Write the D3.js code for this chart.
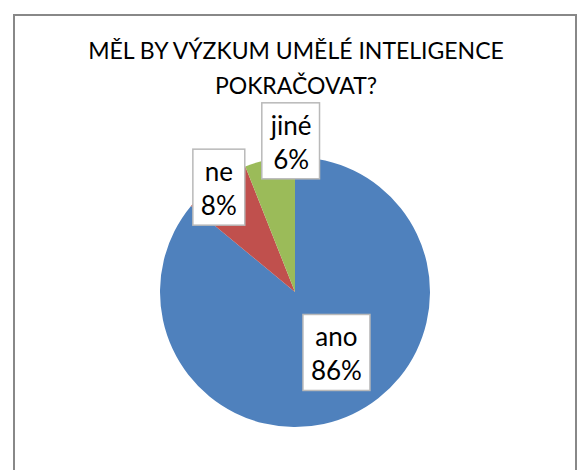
<!DOCTYPE html>
<html>
<head>
<meta charset="utf-8">
<script src="https://cdn.jsdelivr.net/npm/d3@7"></script>
<style>
  body { margin: 0; background: #fff; }
  svg { display: block; font-family: Lato, "Open Sans", sans-serif; }
</style>
</head>
<body>
<script>
'use strict';

// data
const categories = ['ano', 'ne', 'jiné'];
const values = [86, 8, 6];
const colors = ['#4F81BD', '#C0504D', '#9BBB59'];
const titleLines = ['MĚL BY VÝZKUM UMĚLÉ INTELIGENCE', 'POKRAČOVAT?'];

const width = 582, height = 470;
const cx = 295, cy = 292, radius = 135;

// label placement (radius factor, x nudge) per slice
const labelRadius = [0.495, 0.96, 1.14];
const labelNudge = [13, 0, 25];

const svg = d3.select('body').append('svg')
    .attr('width', width)
    .attr('height', height);

// chart area border
svg.append('rect')
    .attr('x', 14)
    .attr('y', 15)
    .attr('width', 562)
    .attr('height', 470)
    .attr('fill', '#fff')
    .attr('stroke', '#888')
    .attr('stroke-width', 2);

// title
svg.append('text')
    .attr('x', 296)
    .attr('y', 59)
    .attr('text-anchor', 'middle')
    .attr('font-size', 23)
    .attr('fill', '#000')
  .selectAll('tspan')
    .data(titleLines).enter()
  .append('tspan')
    .attr('x', 296)
    .attr('dy', (d, i) => i === 0 ? 0 : 35)
    .text(d => d);

const pie = d3.pie().sort(null).value(d => d.value);
const arcs = pie(categories.map((c, i) => ({name: c, value: values[i], color: colors[i]})));
const arc = d3.arc().innerRadius(0).outerRadius(radius);

const g = svg.append('g')
    .attr('transform', 'translate(' + cx + ',' + cy + ')');

g.selectAll('path')
    .data(arcs).enter()
  .append('path')
    .attr('d', arc)
    .attr('fill', d => d.data.color);

// data labels
const total = d3.sum(values);
const fs = 26;

const labels = g.selectAll('g.label')
    .data(arcs).enter()
  .append('g')
    .attr('class', 'label')
    .attr('transform', (d, i) => {
      const r = radius * labelRadius[i];
      const a = (d.startAngle + d.endAngle) / 2;
      return 'translate(' + (Math.sin(a) * r + labelNudge[i]) + ',' + (-Math.cos(a) * r) + ')';
    });

labels.each(function(d) {
  const lg = d3.select(this);
  const box = lg.append('rect');
  const t = lg.append('text')
      .attr('text-anchor', 'middle')
      .attr('font-size', fs)
      .attr('fill', '#000');
  t.append('tspan').attr('x', 0).attr('y', -6).text(d.data.name);
  t.append('tspan').attr('x', 0).attr('y', 28)
      .text(Math.round(d.data.value / total * 100) + '%');
  const bb = t.node().getBBox();
  const padX = 8;
  box.attr('x', bb.x - padX)
      .attr('y', -38)
      .attr('width', bb.width + padX * 2)
      .attr('height', 76)
      .attr('fill', '#fff')
      .attr('stroke', '#b9b9b9')
      .attr('stroke-width', 1.5);
});
</script>
</body>
</html>
